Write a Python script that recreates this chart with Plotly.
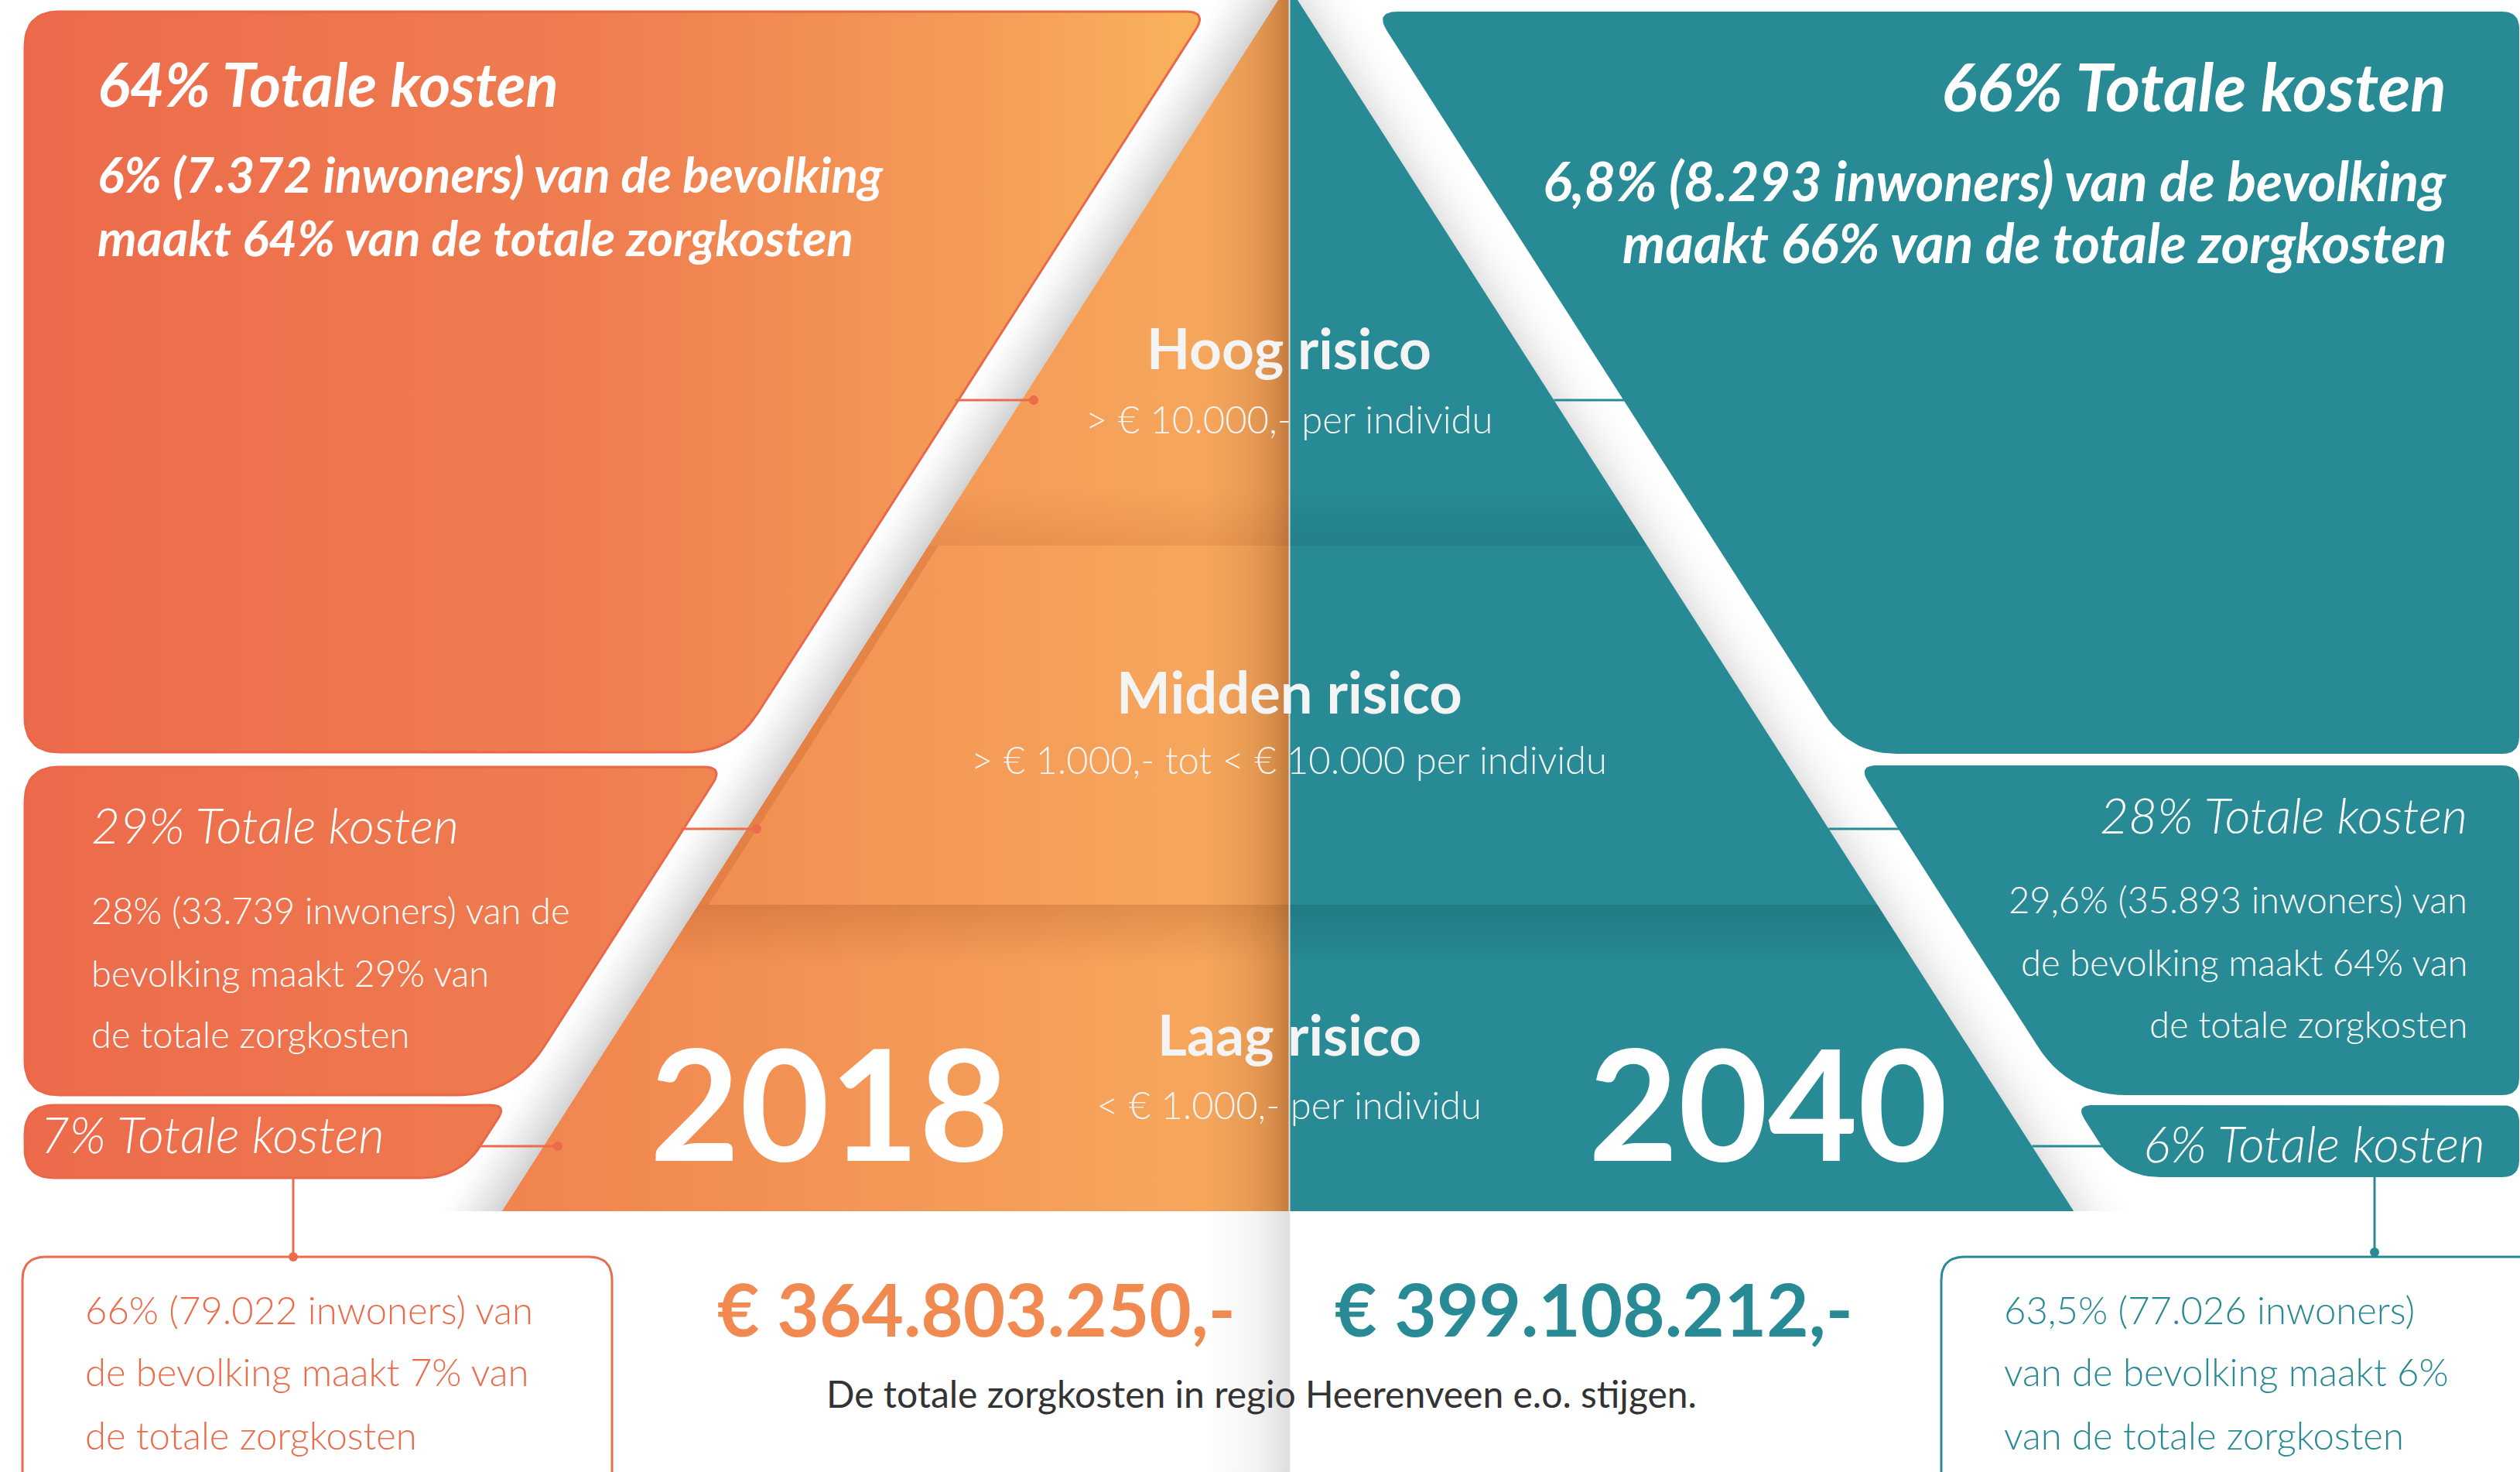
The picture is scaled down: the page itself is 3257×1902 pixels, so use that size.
import numpy as np
import plotly.graph_objects as go

W, H = 3257, 1902
FONT = 'Lato'

# ---- data read from the infographic ----
years = ['2018', '2040']
total_costs = [364803250, 399108212]
risk_groups = ['Hoog risico', 'Midden risico', 'Laag risico']
risk_ranges = ['> € 10.000,- per individu',
               '> € 1.000,- tot < € 10.000 per individu',
               '< € 1.000,- per individu']
cost_share_2018 = [64, 29, 7]
cost_share_2040 = [66, 28, 6]
pop_share_2018 = ['6%', '28%', '66%']
pop_share_2040 = ['6,8%', '29,6%', '63,5%']
residents_2018 = [7372, 33739, 79022]
residents_2040 = [8293, 35893, 77026]
printed_share_2040 = [66, 64, 6]   # middle row is printed as 64% in the source
footer = 'De totale zorgkosten in regio Heerenveen e.o. stijgen.'

CORAL = '#EC6B4B'
TEAL = '#278A94'

# ---- geometry of the pyramid / boxes (pixels) ----
APEX_L, APEX_R, MID = 1652, 1677, 1666.5
SLOPE = 0.641
BASE = 1565
GAP_L, GAP_R = 82, 90
BANDS = [705, 1169]


def nl(n):
    return f'{n:,}'.replace(',', '.')


def euro(n):
    return '€ ' + nl(n) + ',-'


def left_edge(y):
    return APEX_L - SLOPE * y


def right_edge(y):
    return APEX_R + SLOPE * y


def lbox(y):
    return left_edge(y) - GAP_L


def rbox(y):
    return right_edge(y) + GAP_R


def rounded(pts, radii, n=14):
    xs, ys = [], []
    k = len(pts)
    for i in range(k):
        p = np.array(pts[i], float)
        a = np.array(pts[i - 1], float)
        b = np.array(pts[(i + 1) % k], float)
        r = radii[i]
        da = (a - p) / np.linalg.norm(a - p)
        db = (b - p) / np.linalg.norm(b - p)
        p1, p2 = p + da * r, p + db * r
        for t in np.linspace(0, 1, n):
            q = (1 - t) ** 2 * p1 + 2 * (1 - t) * t * p + t ** 2 * p2
            xs.append(q[0])
            ys.append(q[1])
    xs.append(xs[0])
    ys.append(ys[0])
    return xs, ys


fig = go.Figure()


def poly(xs, ys, fill=None, grad=None, line=None, lw=0):
    kw = dict(x=list(xs), y=list(ys), mode='lines', fill='toself',
              hoverinfo='skip', showlegend=False,
              line=dict(width=lw, color=line or 'rgba(0,0,0,0)'))
    if grad is not None:
        kw['fillgradient'] = grad
    else:
        kw['fillcolor'] = fill
    fig.add_trace(go.Scatter(**kw))


def hgrad(scale, start, stop):
    return dict(type='horizontal', colorscale=scale, start=start, stop=stop)


def vgrad(scale, start, stop):
    return dict(type='vertical', colorscale=scale, start=start, stop=stop)


# ---- shaded white stripes between boxes and pyramid ----
N = 16
y0, y1 = -10, BASE
for i in range(N):
    t = (i + 0.5) / N
    g = int(round(255 - (255 - 210) * t ** 1.4))
    a, b = GAP_L * i / N, GAP_L * (i + 1) / N + 1.2
    poly([lbox(y0) + a, lbox(y0) + b, lbox(y1) + b, lbox(y1) + a],
         [y0, y0, y1, y1], fill=f'rgb({g},{g},{g})')
for i in range(N):
    t = (i + 0.5) / N
    g = int(round(255 - (255 - 226) * (1 - t) ** 2.2))
    a, b = GAP_R * i / N - 1.2, GAP_R * (i + 1) / N
    poly([right_edge(y0) + a, right_edge(y0) + b, right_edge(y1) + b, right_edge(y1) + a],
         [y0, y0, y1, y1], fill=f'rgb({g},{g},{g})')

# ---- pyramid halves ----
poly([left_edge(0), MID, MID, left_edge(BASE)], [0, 0, BASE, BASE],
     grad=hgrad([[0, '#F0834F'], [0.9, '#F6A75C'], [1, '#F6A75C']], left_edge(BASE), MID))
poly([MID, right_edge(0), right_edge(BASE), MID], [0, 0, BASE, BASE], fill=TEAL)

# band shadows
for (ya, yb, fade_down) in [(632, BANDS[0], False), (BANDS[1], 1245, True)]:
    if fade_down:
        osc = [[0, 'rgba(150,70,25,0.24)'], [1, 'rgba(150,70,25,0)']]
        tsc = [[0, 'rgba(0,35,45,0.15)'], [1, 'rgba(0,35,45,0)']]
    else:
        osc = [[0, 'rgba(170,80,30,0)'], [1, 'rgba(170,80,30,0.16)']]
        tsc = [[0, 'rgba(0,35,45,0)'], [1, 'rgba(0,35,45,0.1)']]
    poly([left_edge(ya), MID, MID, left_edge(yb)], [ya, ya, yb, yb], grad=vgrad(osc, ya, yb))
    poly([MID, right_edge(ya), right_edge(yb), MID], [ya, ya, yb, yb], grad=vgrad(tsc, ya, yb))

# inset edge of the middle band
ya, yb = BANDS
poly([left_edge(ya), left_edge(ya) + 13, left_edge(yb) + 13, left_edge(yb)],
     [ya, ya, yb, yb], fill='rgba(200,95,40,0.32)')

# fold shadow at the centre
FX = 1555
fold = [[0, 'rgba(120,60,20,0)'], [0.5, 'rgba(120,60,20,0.1)'],
        [0.8, 'rgba(120,60,20,0.23)'], [1, 'rgba(120,60,20,0.42)']]
poly([left_edge(0), MID, MID, FX, FX], [0, 0, BASE, BASE, (APEX_L - FX) / SLOPE],
     grad=hgrad(fold, FX, MID))
poly([FX, MID, MID, FX], [BASE, BASE, H + 10, H + 10],
     grad=hgrad([[0, 'rgba(0,0,0,0)'], [0.6, 'rgba(0,0,0,0.04)'], [1, 'rgba(0,0,0,0.13)']], FX, MID))
fig.add_trace(go.Scatter(x=[MID, MID], y=[0, H], mode='lines', hoverinfo='skip',
                         showlegend=False, line=dict(color='rgba(225,225,225,0.95)', width=2)))

# ---- left (2018) boxes ----
lgrad = hgrad([[0, '#EC6A4B'], [0.5, '#EF7E50'], [0.85, '#F5A058'], [1, '#F9B45C']], 32, 1552)
left_boxes = [
    ([(32, 15), (lbox(15), 15), (lbox(972), 972), (32, 972)], [45, 28, 60, 45]),
    ([(32, 991), (lbox(991), 991), (lbox(1415), 1415), (32, 1415)], [45, 25, 75, 45]),
    ([(32, 1428), (lbox(1428), 1428), (lbox(1522), 1522), (32, 1522)], [38, 20, 50, 38]),
]
for pts, rad in left_boxes:
    xs, ys = rounded(pts, rad)
    poly(xs, ys, grad=lgrad, line='#E9674A', lw=3)

# ---- right (2040) boxes ----
right_boxes = [
    ([(rbox(15), 15), (3256, 15), (3256, 974), (rbox(974), 974)], [30, 22, 22, 60]),
    ([(rbox(989), 989), (3256, 989), (3256, 1415), (rbox(1415), 1415)], [25, 22, 22, 75]),
    ([(rbox(1428), 1428), (3256, 1428), (3256, 1521), (rbox(1521), 1521)], [22, 22, 22, 50]),
]
for pts, rad in right_boxes:
    xs, ys = rounded(pts, rad)
    poly(xs, ys, fill=TEAL)

# ---- outlined boxes at the bottom ----
xs, ys = rounded([(29, 1624), (791, 1624), (791, 1990), (29, 1990)], [30, 30, 30, 30])
poly(xs, ys, fill='white', line=CORAL, lw=3)
xs, ys = rounded([(2509, 1624), (3300, 1624), (3300, 1990), (2509, 1990)], [30, 30, 30, 30])
poly(xs, ys, fill='white', line=TEAL, lw=3)

# ---- connectors ----
connectors = [
    (CORAL, [lbox(517) - 4, 1336], [517, 517], (1336, 517)),
    (CORAL, [lbox(1071) - 4, 978], [1071, 1071], (978, 1071)),
    (CORAL, [lbox(1481) - 4, 721], [1481, 1481], (721, 1481)),
    (CORAL, [379, 379], [1522, 1624], (379, 1624)),
    (TEAL, [right_edge(517), rbox(517) + 4], [517, 517], None),
    (TEAL, [right_edge(1071), rbox(1071) + 4], [1071, 1071], None),
    (TEAL, [right_edge(1481), rbox(1481) + 4], [1481, 1481], None),
    (TEAL, [3069, 3069], [1521, 1618], (3069, 1618)),
]
for col, cx, cy, dot in connectors:
    fig.add_trace(go.Scatter(x=cx, y=cy, mode='lines', hoverinfo='skip', showlegend=False,
                             line=dict(color=col, width=3)))
    if dot:
        fig.add_trace(go.Scatter(x=[dot[0]], y=[dot[1]], mode='markers', hoverinfo='skip',
                                 showlegend=False, marker=dict(color=col, size=12)))


# ---- text ----
def txt(s, x, y, size, color='white', weight=400, style='normal', anchor='left'):
    fig.add_annotation(x=x, y=y, xref='x', yref='y', text=s, showarrow=False,
                       xanchor=anchor, yanchor='middle',
                       font=dict(family=FONT, size=size, color=color, weight=weight, style=style))


# 2018 side
txt(f'{cost_share_2018[0]}% Totale kosten', 124, 108, 78, weight=700, style='italic')
txt(f'{pop_share_2018[0]} ({nl(residents_2018[0])} inwoners) van de bevolking', 124, 224, 64,
    weight=700, style='italic')
txt(f'maakt {cost_share_2018[0]}% van de totale zorgkosten', 124, 306, 64, weight=700, style='italic')

txt(f'{cost_share_2018[1]}% Totale kosten', 116, 1065, 64, weight=300, style='italic')
txt(f'{pop_share_2018[1]} ({nl(residents_2018[1])} inwoners) van de', 116, 1176, 47, weight=300)
txt(f'bevolking maakt {cost_share_2018[1]}% van', 116, 1257, 47, weight=300)
txt('de totale zorgkosten', 116, 1336, 47, weight=300)

txt(f'{cost_share_2018[2]}% Totale kosten', 50, 1465, 65, weight=300, style='italic')
txt(f'{pop_share_2018[2]} ({nl(residents_2018[2])} inwoners) van', 108, 1692, 49, color=CORAL, weight=300)
txt(f'de bevolking maakt {cost_share_2018[2]}% van', 108, 1772, 49, color=CORAL, weight=300)
txt('de totale zorgkosten', 108, 1854, 49, color=CORAL, weight=300)

# 2040 side
txt(f'{cost_share_2040[0]}% Totale kosten', 3164, 110, 86, weight=700, style='italic', anchor='right')
txt(f'{pop_share_2040[0]} ({nl(residents_2040[0])} inwoners) van de bevolking', 3164, 233, 70,
    weight=700, style='italic', anchor='right')
txt(f'maakt {printed_share_2040[0]}% van de totale zorgkosten', 3164, 313, 70,
    weight=700, style='italic', anchor='right')

txt(f'{cost_share_2040[1]}% Totale kosten', 3191, 1052, 64, weight=300, style='italic', anchor='right')
txt(f'{pop_share_2040[1]} ({nl(residents_2040[1])} inwoners) van', 3191, 1162, 47, weight=300, anchor='right')
txt(f'de bevolking maakt {printed_share_2040[1]}% van', 3191, 1243, 47, weight=300, anchor='right')
txt('de totale zorgkosten', 3191, 1323, 47, weight=300, anchor='right')

txt(f'{cost_share_2040[2]}% Totale kosten', 3214, 1477, 65, weight=300, style='italic', anchor='right')
txt(f'{pop_share_2040[2]} ({nl(residents_2040[2])} inwoners)', 2588, 1692, 49, color=TEAL, weight=300)
txt(f'van de bevolking maakt {printed_share_2040[2]}%', 2588, 1772, 49, color=TEAL, weight=300)
txt('van de totale zorgkosten', 2588, 1854, 49, color=TEAL, weight=300)

# pyramid labels
for label, rng, ly, ry, ls in zip(risk_groups, risk_ranges, [449, 893, 1336], [541, 981, 1427],
                                  [73, 74, 73]):
    txt(label, 1666, ly, ls, color='#F4F4F4', weight=700, anchor='center')
    txt(rng, 1666, ry, 49, color='#F4F4F4', weight=300, anchor='center')

txt(years[0], 1072, 1423, 200, weight=700, anchor='center')
txt(years[1], 2285, 1423, 200, weight=700, anchor='center')

# totals
txt(euro(total_costs[0]), 1262, 1690, 94, color='#F08A50', weight=700, anchor='center')
txt(euro(total_costs[1]), 2060, 1690, 94, color=TEAL, weight=700, anchor='center')
txt(footer, 1630, 1800, 48, color='#333333', anchor='center')

fig.update_layout(
    width=W, height=H,
    margin=dict(l=0, r=0, t=0, b=0),
    paper_bgcolor='white', plot_bgcolor='white',
    xaxis=dict(range=[0, W], visible=False, fixedrange=True),
    yaxis=dict(range=[H, 0], visible=False, fixedrange=True),
    showlegend=False,
)

fig.write_html('out.html', config={'displayModeBar': False},
               post_script="document.body.style.margin='0px';")
